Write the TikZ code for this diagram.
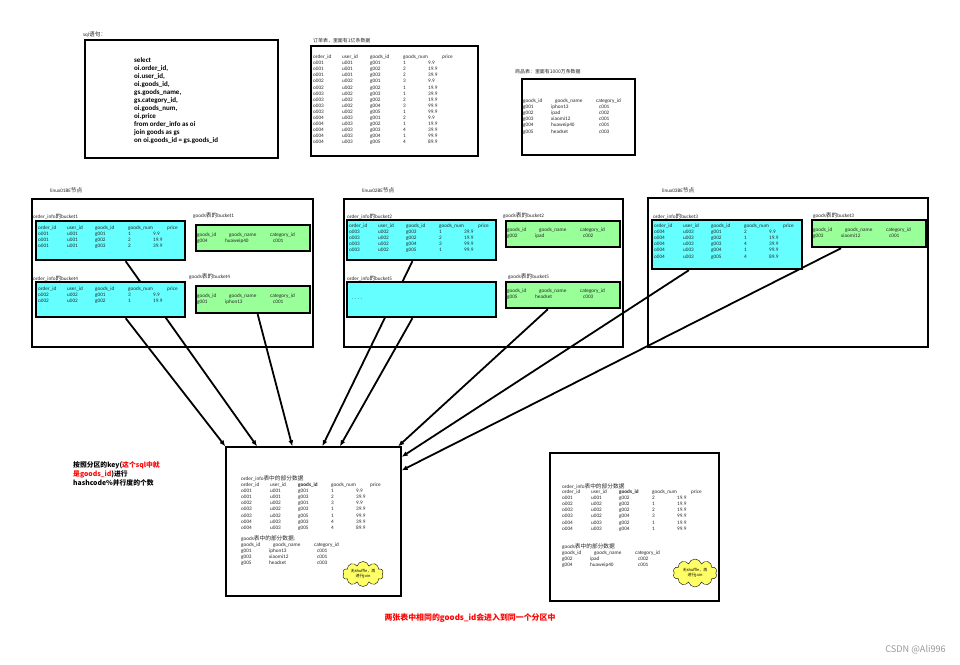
\documentclass[tikz,border=0pt]{standalone}
\usepackage{fontspec}
\setmainfont{Carlito}
\newfontfamily\cjk[Scale=1.1]{Noto Sans CJK SC}
\usepackage{array}
\usepackage{tikz}
\usetikzlibrary{arrows.meta,calc,backgrounds,shapes.symbols}

\definecolor{bktcyan}{HTML}{66FFFF}
\definecolor{bktgreen}{HTML}{99FF99}
\definecolor{notered}{HTML}{FF0000}
\definecolor{cloudyel}{HTML}{FFFF66}

\newcommand{\zh}[1]{{\cjk #1}}
\newcommand{\ohead}{order\_id & user\_id & goods\_id & goods\_num & \hspace*{14pt}price\\}
\newcommand{\oheadb}{order\_id & user\_id & \textbf{goods\_id} & goods\_num & \hspace*{14pt}price\\}
\newcommand{\ghead}{goods\_id & \hspace*{4pt}goods\_name & \hspace*{-3pt}category\_id\\}
\newenvironment{otab}{\begin{tabular}[t]{@{}p{29pt}@{}p{28pt}@{}p{33pt}@{}p{25pt}@{}l@{}}}{\end{tabular}}
\newenvironment{gtab}{\begin{tabular}[t]{@{}p{28pt}@{}p{48pt}@{}l@{}}}{\end{tabular}}

\begin{document}
\begin{tikzpicture}[x=1pt, y=-1pt, >={Latex[length=6pt,width=5pt]}, every node/.style={inner sep=0, text=black!85, font=\fontsize{5.2}{6.1}\selectfont}]
    \tikzstyle{host}=[draw, line width=1.8pt]
    \tikzstyle{tbl}=[draw, line width=2.2pt]
    \tikzstyle{obkt}=[draw, line width=2.4pt, fill=bktcyan]
    \tikzstyle{gbkt}=[draw, line width=2.4pt, fill=bktgreen]
    \tikzstyle{res}=[draw, line width=1.4pt]
    \tikzstyle{lbl}=[anchor=west]
    \tikzstyle{rows}=[anchor=base west]
    \tikzstyle{note}=[cloud, draw, fill=cloudyel, cloud puffs=10, cloud ignores aspect, inner sep=1.5pt, minimum width=40, minimum height=25, align=center, text=black, font=\cjk\fontsize{3.6}{4.4}\selectfont]
    \tikzstyle{conn}=[->, line width=1.8pt]

    \useasboundingbox (0,0) rectangle (960,664);

    % sql and the two source tables
    \node[lbl] (sqllbl) at (83,35) {sql\zh{语句：}};
    \node[tbl, minimum width=193, minimum height=118] (sqlbox) at (181.5,99) {};
    \node[rows, text=black, font=\bfseries\fontsize{7}{8}\selectfont] (sqltxt) at (134,62.5) {\begin{tabular}[t]{@{}l@{}}
        select\\ oi.order\_id,\\ oi.user\_id,\\ oi.goods\_id,\\ gs.goods\_name,\\ gs.category\_id,\\ oi.goods\_num,\\ oi.price\\
        from order\_info as oi\\ join goods as gs\\ on oi.goods\_id = gs.goods\_id
    \end{tabular}};

    \node[lbl, font=\fontsize{4.5}{5}\selectfont\cjk] (ordlbl) at (313,41) {订单表，里面有1亿条数据};
    \node[tbl, minimum width=167, minimum height=110] (ordbox) at (394.5,101) {};
    \node[rows] (ordrows) at (313,58.5) {\begin{otab}\ohead
        o001 & u001 & g001 & 1 & 9.9\\  o001 & u001 & g002 & 2 & 19.9\\ o001 & u001 & g003 & 2 & 39.9\\
        o002 & u002 & g001 & 3 & 9.9\\  o002 & u002 & g002 & 1 & 19.9\\ o003 & u002 & g003 & 1 & 39.9\\
        o003 & u002 & g002 & 2 & 19.9\\ o003 & u002 & g004 & 3 & 99.9\\ o003 & u002 & g005 & 1 & 99.9\\
        o004 & u003 & g001 & 2 & 9.9\\  o004 & u003 & g002 & 1 & 19.9\\ o004 & u003 & g003 & 4 & 39.9\\
        o004 & u003 & g004 & 1 & 99.9\\ o004 & u003 & g005 & 4 & 89.9
    \end{otab}};

    \node[lbl, font=\fontsize{4.5}{5}\selectfont\cjk] (gdslbl) at (515,72) {商品表：里面有1000万条数据};
    \node[tbl, minimum width=113, minimum height=76] (gdsbox) at (578.5,117) {};
    \node[rows] (gdsrows) at (523,102.5) {\begin{gtab}\ghead
        g001 & iphon13 & c001\\ g002 & ipad & c002\\ g003 & xiaomi12 & c001\\ g004 & huaweip40 & c001\\ g005 & headset & c003
    \end{gtab}};

    % linux01
    \node[lbl] (h1lbl) at (50,190) {linux01BE\zh{节点}};
    \node[host, minimum width=281, minimum height=148] (host1) at (172.5,273) {};
    \node[lbl] (ob1lbl) at (33,216) {order\_info\zh{的}bucket1};
    \node[obkt, minimum width=149, minimum height=39] (ob1) at (110.5,240.5) {};
    \node[rows] (ob1rows) at (38,229.5) {\begin{otab}\ohead
        o001 & u001 & g001 & 1 & 9.9\\ o001 & u001 & g002 & 2 & 19.9\\ o001 & u001 & g003 & 2 & 39.9
    \end{otab}};
    \node[lbl] (ob4lbl) at (33,278) {order\_info\zh{的}bucket4};
    \node[obkt, minimum width=149, minimum height=35] (ob4) at (110.5,299.5) {};
    \node[rows] (ob4rows) at (38,290.5) {\begin{otab}\ohead
        o002 & u002 & g001 & 3 & 9.9\\ o002 & u002 & g002 & 1 & 19.9
    \end{otab}};
    \node[lbl] (gb1lbl) at (193,216) {goods\zh{表的}bucket1};
    \node[gbkt, minimum width=114, minimum height=26] (gb1) at (253,238) {};
    \node[rows] (gb1rows) at (197,236.5) {\begin{gtab}\ghead g004 & huaweip40 & c001\end{gtab}};
    \node[lbl] (gb4lbl) at (189,277) {goods\zh{表的}bucket4};
    \node[gbkt, minimum width=114, minimum height=27] (gb4) at (253,299.5) {};
    \node[rows] (gb4rows) at (197,297.5) {\begin{gtab}\ghead g001 & iphon13 & c001\end{gtab}};

    % linux02
    \node[lbl] (h2lbl) at (362,190) {linux02BE\zh{节点}};
    \node[host, minimum width=279, minimum height=148] (host2) at (483.5,273) {};
    \node[lbl] (ob2lbl) at (347,216) {order\_info\zh{的}bucket2};
    \node[obkt, minimum width=149, minimum height=40] (ob2) at (421.5,240) {};
    \node[rows] (ob2rows) at (349,227) {\begin{otab}\ohead
        o003 & u002 & g003 & 1 & 39.9\\ o003 & u002 & g002 & 2 & 19.9\\ o003 & u002 & g004 & 3 & 99.9\\ o003 & u002 & g005 & 1 & 99.9
    \end{otab}};
    \node[lbl] (ob5lbl) at (347,278) {order\_info\zh{的}bucket5};
    \node[obkt, minimum width=149, minimum height=35] (ob5) at (421.5,299.5) {};
    \node[lbl] (ob5dots) at (352,299) {. . . .};
    \node[lbl] (gb2lbl) at (503,216) {goods\zh{表的}bucket2};
    \node[gbkt, minimum width=114, minimum height=26] (gb2) at (563,234) {};
    \node[rows] (gb2rows) at (507,231.5) {\begin{gtab}\ghead g002 & ipad & c002\end{gtab}};
    \node[lbl] (gb5lbl) at (508,277) {goods\zh{表的}bucket5};
    \node[gbkt, minimum width=114, minimum height=26] (gb5) at (563,295) {};
    \node[rows] (gb5rows) at (507,292.5) {\begin{gtab}\ghead g005 & headset & c003\end{gtab}};

    % linux03
    \node[lbl] (h3lbl) at (662,190) {linux03BE\zh{节点}};
    \node[host, minimum width=280, minimum height=149] (host3) at (788,272.5) {};
    \node[lbl] (ob3lbl) at (653,216) {order\_info\zh{的}bucket3};
    \node[obkt, minimum width=150, minimum height=49] (ob3) at (727,244.5) {};
    \node[rows] (ob3rows) at (654,227.5) {\begin{otab}\ohead
        o004 & u003 & g001 & 2 & 9.9\\ o004 & u003 & g002 & 1 & 19.9\\ o004 & u003 & g003 & 4 & 39.9\\
        o004 & u003 & g004 & 1 & 99.9\\ o004 & u003 & g005 & 4 & 89.9
    \end{otab}};
    \node[lbl] (gb3lbl) at (813,216) {goods\zh{表的}bucket3};
    \node[gbkt, minimum width=114, minimum height=27] (gb3) at (869,233.5) {};
    \node[rows] (gb3rows) at (813,231.5) {\begin{gtab}\ghead g003 & xiaomi12 & c001\end{gtab}};

    % partitions after hashing
    \node[lbl, text=black, font=\cjk\bfseries\fontsize{6.2}{9}\selectfont, align=left] (keynote) at (73,474)
        {按照分区的key(\textcolor{notered}{这个sql中就}\\ \textcolor{notered}{是goods\_id})进行\\ hashcode\%并行度的个数};

    \node[res, minimum width=175, minimum height=149] (res1) at (313.5,521.5) {};
    \node[lbl] (r1olbl) at (241,478) {order\_info\zh{表中的部分数据}};
    \node[rows] (r1orows) at (241,486.5) {\begin{otab}\oheadb
        o001 & u001 & g001 & 1 & 9.9\\ o001 & u001 & g003 & 2 & 39.9\\ o002 & u002 & g001 & 3 & 9.9\\
        o003 & u002 & g003 & 1 & 39.9\\ o003 & u002 & g005 & 1 & 99.9\\ o004 & u003 & g003 & 4 & 39.9\\
        o004 & u003 & g005 & 4 & 89.9
    \end{otab}};
    \node[lbl] (r1glbl) at (241,539) {goods\zh{表中的部分数据}:};
    \node[rows] (r1grows) at (241,546.5) {\begin{gtab}\ghead
        g001 & iphon13 & c001\\ g003 & xiaomi12 & c001\\ g005 & headset & c003
    \end{gtab}};
    \node[note] (cld1) at (363,574) {无shuffle，再\\进行join};

    \node[res, minimum width=169, minimum height=148] (res2) at (634.5,527) {};
    \node[lbl] (r2olbl) at (562,486) {order\_info\zh{表中的部分数据}};
    \node[rows] (r2orows) at (562,493.5) {\begin{otab}\oheadb
        o001 & u001 & g002 & 2 & 19.9\\ o002 & u002 & g002 & 1 & 19.9\\ o003 & u002 & g002 & 2 & 19.9\\
        o003 & u002 & g004 & 3 & 99.9\\ o004 & u003 & g002 & 1 & 19.9\\ o004 & u003 & g004 & 1 & 99.9
    \end{otab}};
    \node[lbl] (r2glbl) at (562,547) {goods\zh{表中的部分数据}};
    \node[rows] (r2grows) at (562,554.5) {\begin{gtab}\ghead
        g002 & ipad & c002\\ g004 & huaweip40 & c001
    \end{gtab}};
    \node[note, minimum width=44, minimum height=28] (cld2) at (695,573) {无shuffle，再\\进行join};

    \node[text=notered, font=\cjk\bfseries\fontsize{7.2}{8}\selectfont] (caption) at (470,618) {两张表中相同的goods\_id会进入到同一个分区中};
    \node[anchor=east, text=black!40, font=\cjk\fontsize{8.3}{9}\selectfont] (wmark) at (946,650) {CSDN @Ali996};

    \begin{scope}[on background layer]
        \fill[white] (0,0) rectangle (960,664);
        \draw[conn] ($(ob1.south west)!0.60!(ob1.south east)$) -- ($(res1.north west)!0.18!(res1.north east)$);
        \draw[conn] ($(ob4.south west)!0.60!(ob4.south east)$) -- (res1.north west);
        \draw[conn] ($(gb4.south west)!0.54!(gb4.south east)$) -- ($(res1.north west)!0.38!(res1.north east)$);
        \draw[conn] ($(ob2.south west)!0.44!(ob2.south east)$) -- ($(res1.north west)!0.55!(res1.north east)$);
        \draw[conn] ($(ob5.south west)!0.44!(ob5.south east)$) -- ($(res1.north west)!0.65!(res1.north east)$);
        \draw[conn] ($(gb5.south west)!0.37!(gb5.south east)$) -- ($(res1.north west)!0.98!(res1.north east)$);
        \draw[conn] ($(ob3.south west)!0.25!(ob3.south east)$) -- ($(res1.north east)!0.07!(res1.south east)$);
        \draw[conn] ($(gb3.south west)!0.26!(gb3.south east)$) -- ($(res1.north east)!0.16!(res1.south east)$);
    \end{scope}
\end{tikzpicture}
\end{document}
